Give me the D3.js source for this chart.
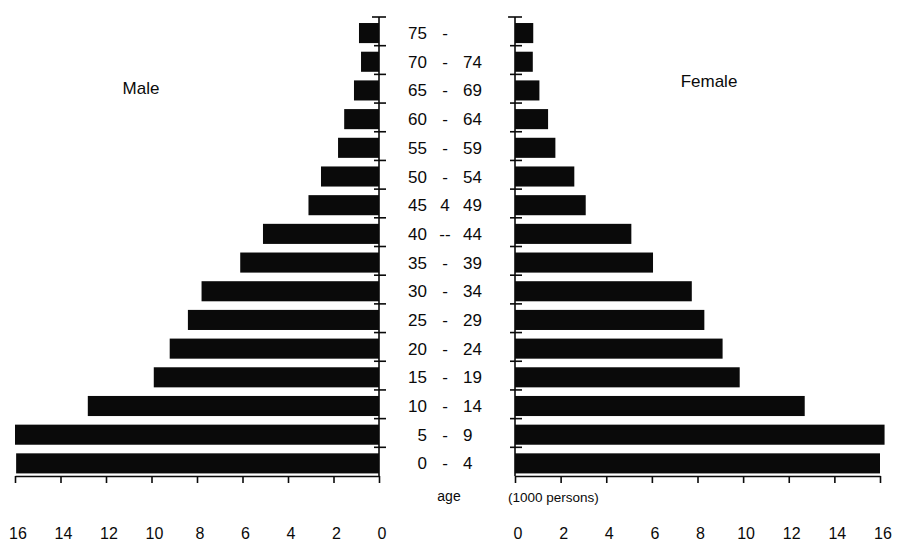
<!DOCTYPE html>
<html>
<head>
<meta charset="utf-8">
<script src="https://cdn.jsdelivr.net/npm/d3@7"></script>
<style>
  html, body { margin: 0; padding: 0; background: #fff; }
  svg { display: block; font-family: "Liberation Sans", Arial, Helvetica, sans-serif; }
</style>
</head>
<body>
<svg id="chart" width="897" height="541"></svg>
<script>
// Age groups, youngest first (drawn bottom to top)
const ageStart = ["0", "5", "10", "15", "20", "25", "30", "35", "40", "45", "50", "55", "60", "65", "70", "75"];
const ageSep   = ["-", "-", "-", "-", "-", "-", "-", "-", "--", "4", "-", "-", "-", "-", "-", "-"];
const ageEnd   = ["4", "9", "14", "19", "24", "29", "34", "39", "44", "49", "54", "59", "64", "69", "74", ""];

// Population in thousands
const male   = [15.95, 16.0, 12.8, 9.9, 9.2, 8.4, 7.8, 6.1, 5.1, 3.1, 2.55, 1.8, 1.53, 1.1, 0.79, 0.88];
const female = [16.0, 16.2, 12.7, 9.85, 9.1, 8.3, 7.75, 6.05, 5.1, 3.1, 2.6, 1.77, 1.45, 1.07, 0.78, 0.8];

// Axis tick values (thousands)
const xTicks = [0, 2, 4, 6, 8, 10, 12, 14, 16];

const svg = d3.select("#chart");
const ink = "#0a0a0a";

const axisTop = 17, axisBottom = 476;
const y = d3.scaleBand()
  .domain(ageStart.slice().reverse())
  .range([axisTop, axisBottom])
  .padding(0);
const step = y.step();

const xLeft  = d3.scaleLinear().domain([0, 16]).range([379, 15]);
const xRight = d3.scaleLinear().domain([0, 16]).range([515, 880]);

const rows = ageStart.map((a, i) => ({ a, sep: ageSep[i], end: ageEnd[i], m: male[i], f: female[i] }));

// Bars
svg.append("g").selectAll("rect.m").data(rows).join("rect")
  .attr("x", d => xLeft(d.m))
  .attr("y", d => y(d.a) + step * 0.21)
  .attr("width", d => xLeft(0) - xLeft(d.m))
  .attr("height", step * 0.70)
  .attr("fill", ink);

svg.append("g").selectAll("rect.f").data(rows).join("rect")
  .attr("x", xRight(0))
  .attr("y", d => y(d.a) + step * 0.21)
  .attr("width", d => xRight(d.f) - xRight(0))
  .attr("height", step * 0.70)
  .attr("fill", ink);

// Vertical axes with cross ticks at band boundaries
function vAxis(x0) {
  const g = svg.append("g").attr("stroke", ink).attr("stroke-width", 1.6).attr("fill", "none");
  g.append("line").attr("x1", x0).attr("x2", x0).attr("y1", axisTop).attr("y2", axisBottom);
  g.append("line").attr("x1", x0 - 7).attr("x2", x0 + 7).attr("y1", axisTop).attr("y2", axisTop);
  const bounds = y.domain().slice(1).map(d => y(d));
  g.selectAll("line.t").data(bounds).join("line")
    .attr("x1", x0 - 5).attr("x2", x0 + 7)
    .attr("y1", d => d).attr("y2", d => d);
}
vAxis(xLeft(0));
vAxis(xRight(0));

// Horizontal axes
function hAxis(scale) {
  const g = svg.append("g")
    .attr("transform", `translate(0,${axisBottom})`)
    .call(d3.axisBottom(scale).tickValues(xTicks).tickSize(7).tickSizeOuter(0).tickFormat(""));
  g.selectAll("path, line").attr("stroke", ink).attr("stroke-width", 1.6);
  svg.append("g").selectAll("text").data(xTicks).join("text")
    .attr("x", d => scale(d) + 3)
    .attr("y", 539)
    .attr("text-anchor", "middle")
    .attr("font-size", 16)
    .attr("fill", ink)
    .text(d => d);
}
hAxis(xLeft);
hAxis(xRight);

// Age labels in the middle column
const lab = svg.append("g").attr("font-size", 17).attr("fill", ink);
rows.forEach(d => {
  const cy = y(d.a) + step * 0.21 + step * 0.35 + 6;
  lab.append("text").attr("x", 427).attr("y", cy).attr("text-anchor", "end").text(d.a);
  lab.append("text").attr("x", 445).attr("y", cy).attr("text-anchor", "middle").text(d.sep);
  if (d.end) lab.append("text").attr("x", 463).attr("y", cy).attr("text-anchor", "start").text(d.end);
});

// Titles and units
svg.append("text").attr("x", 141).attr("y", 94).attr("text-anchor", "middle")
  .attr("font-size", 17).attr("fill", ink).text("Male");
svg.append("text").attr("x", 709).attr("y", 87).attr("text-anchor", "middle")
  .attr("font-size", 17).attr("fill", ink).text("Female");
svg.append("text").attr("x", 449).attr("y", 501).attr("text-anchor", "middle")
  .attr("font-size", 14).attr("fill", ink).text("age");
svg.append("text").attr("x", 508).attr("y", 502).attr("text-anchor", "start")
  .attr("font-size", 13.5).attr("fill", ink).text("(1000 persons)");
</script>
</body>
</html>
